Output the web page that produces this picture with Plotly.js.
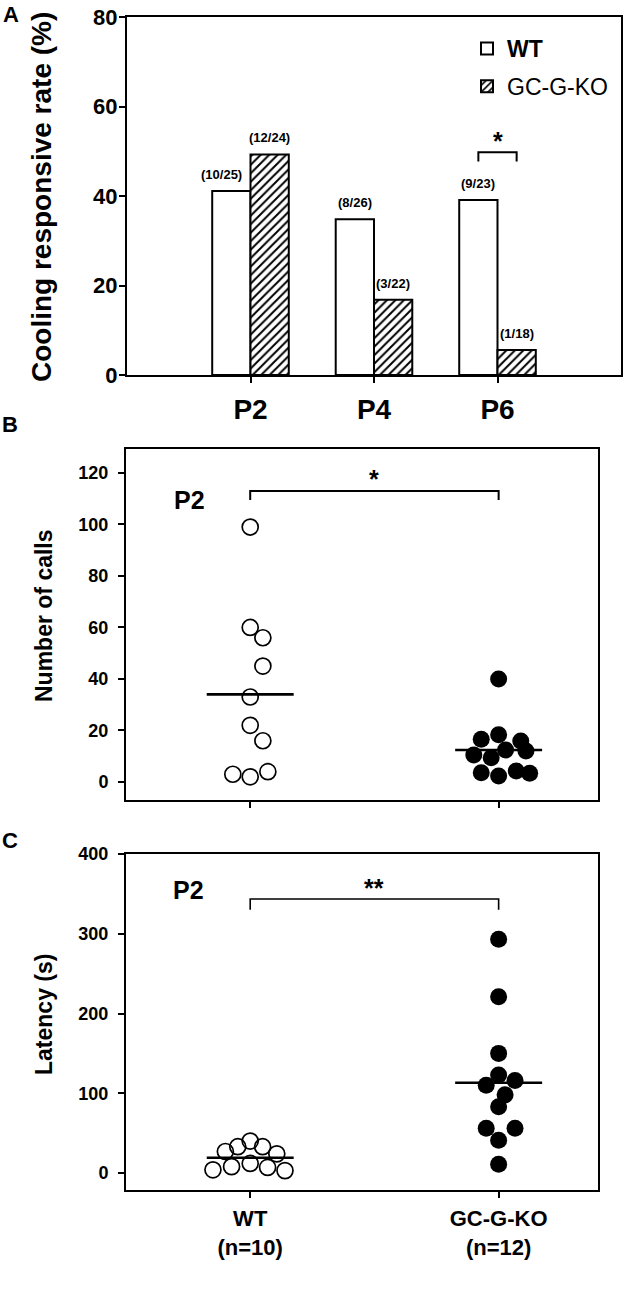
<!DOCTYPE html>
<html>
<head>
<meta charset="utf-8">
<script src="https://cdn.plot.ly/plotly-3.0.1.min.js"></script>
<style>html,body{margin:0;padding:0;background:#fff;}#chart{width:628px;height:1292px;}</style>
</head>
<body>
<div id="chart"></div>
<script>
// ---------- Panel A data ----------
const ages = ['P2', 'P4', 'P6'];
const wtRate = [41.1, 34.8, 39.1];
const koRate = [49.3, 16.8, 5.6];
const wtResp = [10, 8, 9];
const wtTotal = [25, 26, 23];
const koResp = [12, 3, 1];
const koTotal = [24, 22, 18];

// ---------- Panel B data (number of calls, P2) ----------
const wtCalls = [99, 60, 56, 45, 33, 22, 16, 3, 2, 4];
const wtCallsJitter = [0, 0, 0.051, 0.051, 0, 0, 0.051, -0.07, 0, 0.071];
const koCalls = [40, 18.3, 16.6, 15.9, 12, 12.4, 10.5, 9.4, 3.6, 2.3, 4.3, 3.4];
const koCallsJitter = [0, 0, -0.07, 0.089, 0.11, 0.028, -0.1, -0.03, -0.07, 0, 0.071, 0.125];

// ---------- Panel C data (latency, P2) ----------
const wtLatency = [40, 33, 33, 27, 24, 12, 8, 7, 4, 3];
const wtLatencyJitter = [0, -0.05, 0.05, -0.1, 0.107, 0, -0.075, 0.07, -0.15, 0.14];
const koLatency = [293, 221, 150, 123, 110, 116, 98, 83, 56, 56, 41, 11];
const koLatencyJitter = [0, 0, 0, 0, -0.05, 0.066, 0.026, 0, -0.05, 0.066, 0, 0];

const groups = ['WT', 'GC-G-KO'];

const FONT = 'Liberation Sans, Arial, sans-serif';
const BLACK = '#000';
const BARGAP = 0.38;
const halfBar = (1 - BARGAP) / 4;
const mean = a => a.reduce((s, v) => s + v, 0) / a.length;
const halfMean = 0.175;

function pts(vals, jit, gi, filled, xa, ya) {
  return {
    type: 'scatter', mode: 'markers', xaxis: xa, yaxis: ya, showlegend: false,
    x: vals.map((v, i) => gi + jit[i]), y: vals,
    marker: filled
      ? {symbol: 'circle', size: 17, color: BLACK, line: {width: 0}}
      : {symbol: 'circle-open', size: 16, color: BLACK, line: {width: 1.7}},
    cliponaxis: false, hoverinfo: 'skip'
  };
}
function meanLine(vals, gi, xa, ya) {
  const m = mean(vals);
  return {
    type: 'scatter', mode: 'lines', xaxis: xa, yaxis: ya, showlegend: false,
    x: [gi - halfMean, gi + halfMean], y: [m, m],
    line: {color: BLACK, width: 2.6}, hoverinfo: 'skip'
  };
}

const traces = [
  {
    type: 'bar', name: '<b>WT</b>', x: ages, y: wtRate, xaxis: 'x', yaxis: 'y',
    legendgroup: 'wt',
    marker: {color: '#fff', line: {color: BLACK, width: 2}},
    hoverinfo: 'skip'
  },
  {
    type: 'bar', name: 'GC-G-KO', x: ages, y: koRate, xaxis: 'x', yaxis: 'y',
    legendgroup: 'ko',
    marker: {color: '#fff', line: {color: BLACK, width: 2},
      pattern: {shape: '/', fgcolor: BLACK, bgcolor: '#fff', size: 6, solidity: 0.33}},
    hoverinfo: 'skip'
  },
  pts(wtCalls, wtCallsJitter, 0, false, 'x2', 'y2'),
  pts(koCalls, koCallsJitter, 1, true, 'x2', 'y2'),
  meanLine(wtCalls, 0, 'x2', 'y2'),
  meanLine(koCalls, 1, 'x2', 'y2'),
  pts(wtLatency, wtLatencyJitter, 0, false, 'x3', 'y3'),
  pts(koLatency, koLatencyJitter, 1, true, 'x3', 'y3'),
  meanLine(wtLatency, 0, 'x3', 'y3'),
  meanLine(koLatency, 1, 'x3', 'y3')
];

const tf = (size) => ({family: FONT, size: size, color: BLACK, weight: 'bold'});
const axBase = {
  showline: true, linewidth: 2, linecolor: BLACK, mirror: true,
  ticks: 'outside', ticklen: 6, tickwidth: 2, tickcolor: BLACK,
  showgrid: false, zeroline: false, fixedrange: true
};

const annotations = [];
// panel letters
[['A', 11, 14], ['B', 10, 424], ['C', 10, 840]].forEach(([t, px, py]) => {
  annotations.push({text: t, xref: 'paper', yref: 'paper', x: px / 628, y: 1 - py / 1292,
    xanchor: 'center', yanchor: 'middle', showarrow: false, font: tf(22)});
});
// y titles
[['Cooling responsive rate (%)', 42, 197, 28], ['Number of calls', 44, 616, 23], ['Latency (s)', 44, 1015, 23]]
  .forEach(([t, px, py, s]) => {
    annotations.push({text: t, xref: 'paper', yref: 'paper', x: px / 628, y: 1 - py / 1292,
      xanchor: 'center', yanchor: 'middle', textangle: -90, showarrow: false, font: tf(s)});
  });
// bar count labels
ages.forEach((a, i) => {
  const collide = koRate[i] > wtRate[i] ? -10 : 0;
  annotations.push({text: '(' + wtResp[i] + '/' + wtTotal[i] + ')', xref: 'x', yref: 'y',
    x: i - halfBar, y: wtRate[i], xshift: collide, yshift: 7, xanchor: 'center', yanchor: 'bottom',
    showarrow: false, font: tf(13)});
  annotations.push({text: '(' + koResp[i] + '/' + koTotal[i] + ')', xref: 'x', yref: 'y',
    x: i + halfBar, y: koRate[i], yshift: 7, xanchor: 'center', yanchor: 'bottom',
    showarrow: false, font: tf(13)});
});
// significance stars
annotations.push({text: '*', xref: 'x', yref: 'y', x: 2, y: 52.3, showarrow: false, font: tf(25)});
annotations.push({text: '*', xref: 'x2', yref: 'y2', x: 0.5, y: 117.8, showarrow: false, font: tf(25)});
annotations.push({text: '**', xref: 'x3', yref: 'y3', x: 0.5, y: 358, showarrow: false, font: tf(25)});
// P2 labels
annotations.push({text: 'P2', xref: 'paper', yref: 'paper', x: 172 / 628, y: 1 - 500 / 1292, showarrow: false, font: tf(25)});
annotations.push({text: 'P2', xref: 'paper', yref: 'paper', x: 171 / 628, y: 1 - 906 / 1292, showarrow: false, font: tf(25)});

const shapes = [
  {type: 'path', xref: 'x', yref: 'y', path: `M ${2 - halfBar},47.7 L ${2 - halfBar},49.8 L ${2 + halfBar},49.8 L ${2 + halfBar},47.7`,
    line: {color: BLACK, width: 2}},
  {type: 'path', xref: 'x2', yref: 'y2', path: 'M 0,109.5 L 0,113 L 1,113 L 1,109.5', line: {color: BLACK, width: 2}},
  {type: 'path', xref: 'x3', yref: 'y3', path: 'M 0,330 L 0,343.6 L 1,343.6 L 1,330', line: {color: BLACK, width: 1.6}}
];

const layout = {
  width: 628, height: 1292, autosize: false,
  margin: {l: 0, r: 0, t: 0, b: 0},
  paper_bgcolor: '#fff', plot_bgcolor: '#fff',
  font: {family: FONT, color: BLACK},
  barmode: 'group', bargap: BARGAP, bargroupgap: 0,
  showlegend: true,
  legend: {x: 467 / 628, xanchor: 'left', y: 1 - 27 / 1292, yanchor: 'top',
    font: {family: FONT, size: 23, color: BLACK}, bgcolor: 'rgba(0,0,0,0)',
    traceorder: 'grouped', tracegroupgap: 5},
  xaxis: Object.assign({}, axBase, {domain: [127 / 628, 621 / 628], anchor: 'y', type: 'category',
    range: [-1, 3], tickfont: tf(28), ticklabelstandoff: 2}),
  yaxis: Object.assign({}, axBase, {domain: [1 - 375 / 1292, 1 - 17 / 1292], anchor: 'x',
    range: [0, 80], tick0: 0, dtick: 20, tickfont: tf(22), ticklabelstandoff: -3}),
  xaxis2: Object.assign({}, axBase, {domain: [126 / 628, 598 / 628], anchor: 'y2',
    range: [-0.5, 1.4], tickvals: [0, 1], showticklabels: false}),
  yaxis2: Object.assign({}, axBase, {domain: [1 - 800 / 1292, 1 - 449 / 1292], anchor: 'x2',
    range: [-7, 129.3], tick0: 0, dtick: 20, tickfont: tf(18), ticklabelstandoff: 6}),
  xaxis3: Object.assign({}, axBase, {domain: [126 / 628, 598 / 628], anchor: 'y3',
    range: [-0.5, 1.4], tickvals: [0, 1],
    ticktext: [groups[0] + '<br>(n=' + wtLatency.length + ')', groups[1] + '<br>(n=' + koLatency.length + ')'],
    tickfont: tf(22), ticklabelstandoff: 2}),
  yaxis3: Object.assign({}, axBase, {domain: [1 - 1190 / 1292, 1 - 854 / 1292], anchor: 'x3',
    range: [-21.3, 400], tick0: 0, dtick: 100, tickfont: tf(18), ticklabelstandoff: 6}),
  annotations: annotations,
  shapes: shapes
};

Plotly.newPlot('chart', traces, layout, {staticPlot: true, displayModeBar: false});
</script>
</body>
</html>
